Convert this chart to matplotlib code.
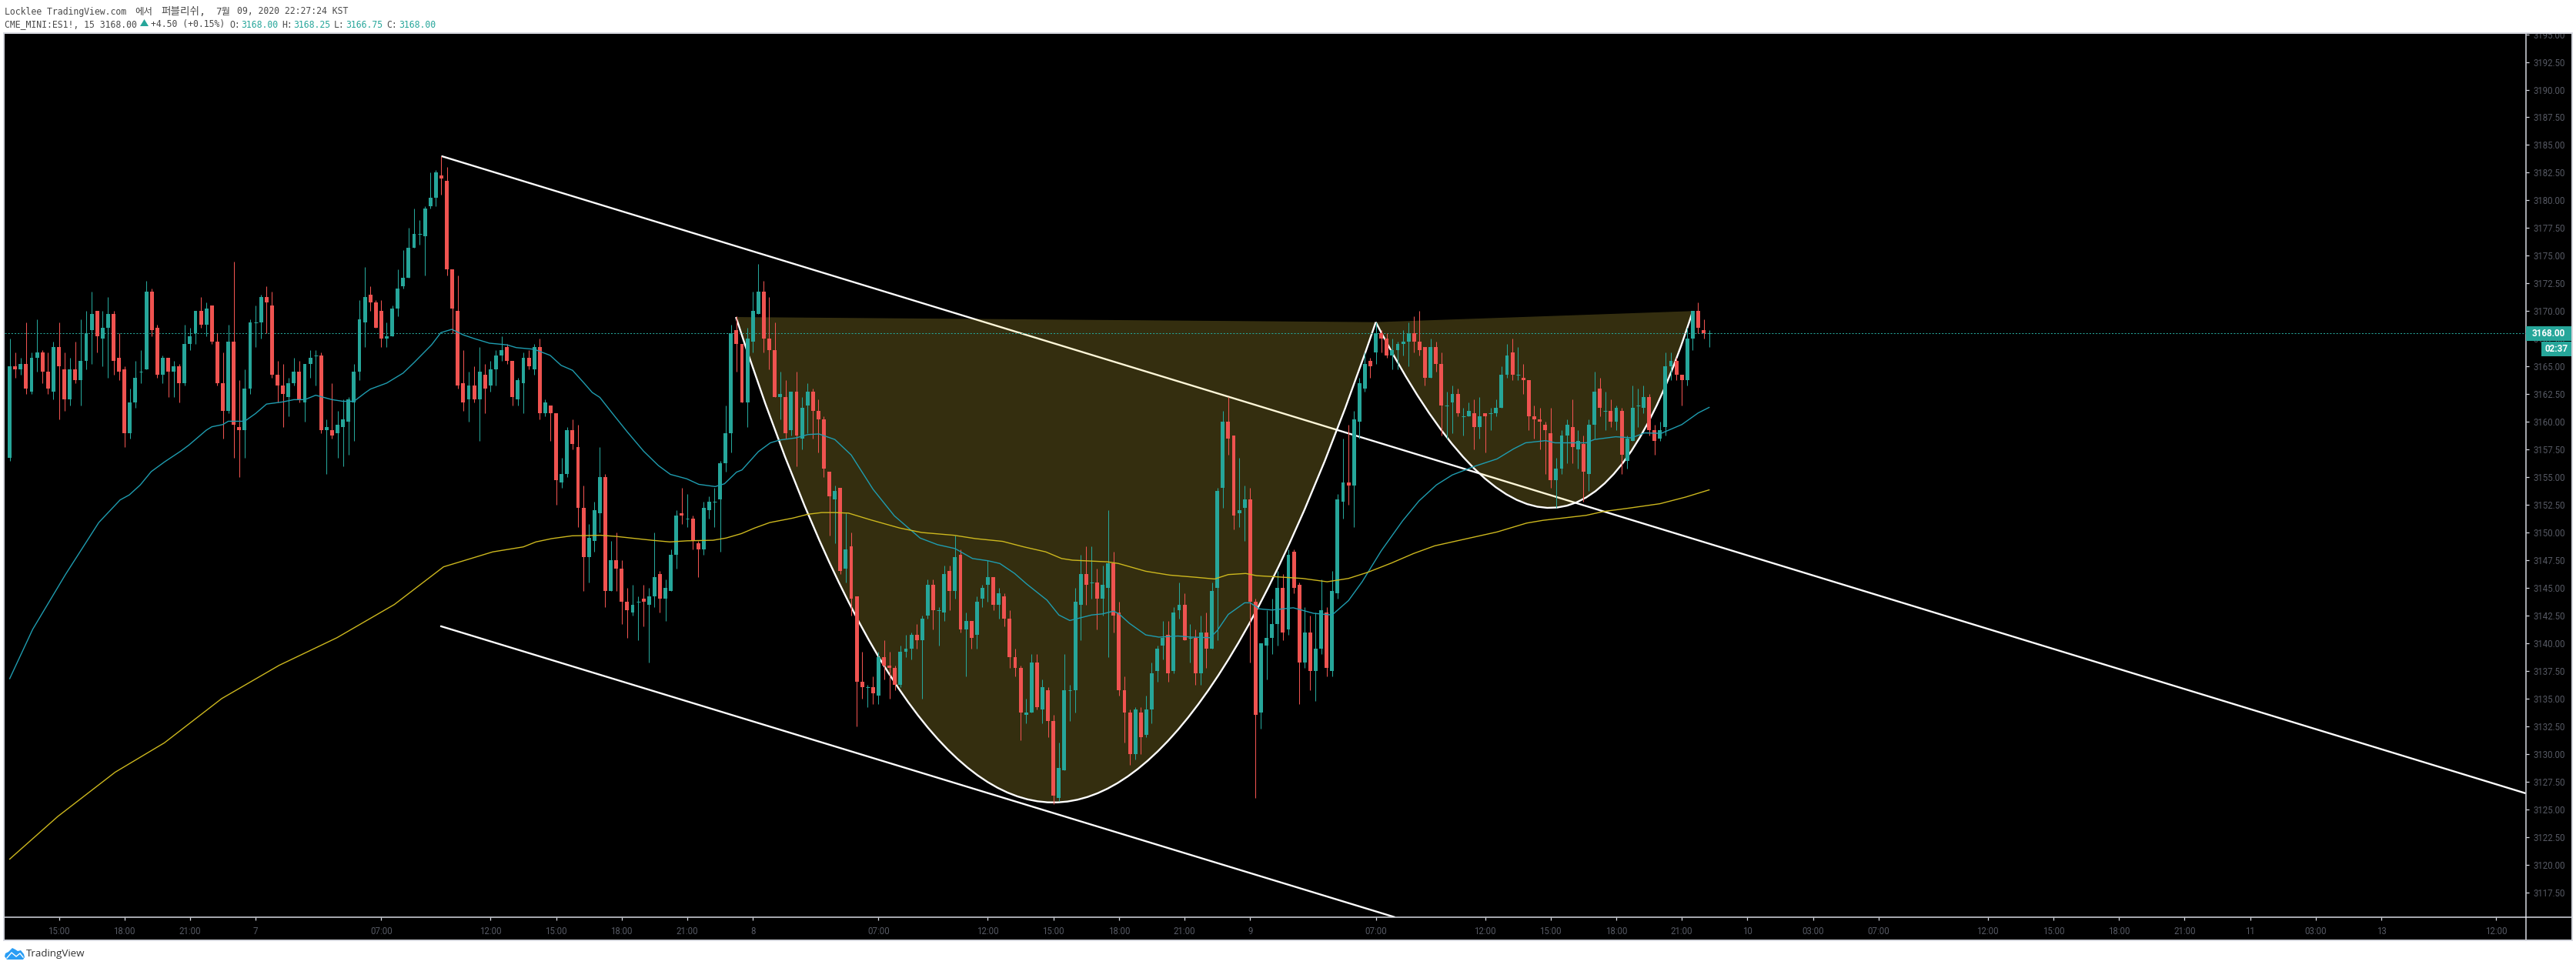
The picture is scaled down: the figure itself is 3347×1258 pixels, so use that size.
import numpy as np
import matplotlib
matplotlib.use("Agg")
import matplotlib.pyplot as plt
from matplotlib.path import Path
from matplotlib.patches import PathPatch, Polygon, Rectangle
from matplotlib.lines import Line2D

W, H = 3348, 1258

highs = [
    3167.5,3166.25,3165.75,3169,3166.25,3169.25,3166.5,3166.25,3167.25,3169,
    3166.25,3165.75,3167.25,3169.25,3170,3171.75,3170,3170,3171.25,3170,
    3168,3165,3163,3165.5,3166.5,3172.75,3172,3168.75,3166,3165.75,
    3165.5,3165.25,3168.75,3168.5,3170,3171.25,3170.75,3170.5,3168,3166.25,
    3168.75,3174.5,3163.75,3164.75,3169.25,3170.5,3171.5,3172.25,3171.75,3165.5,
    3165.25,3164,3165.75,3165.5,3165.25,3166.5,3166.5,3166.25,3160.25,3163.5,
    3161,3162,3162.25,3165.25,3171,3174,3172.25,3171,3171,3169,
    3170.5,3173.75,3175.5,3177.5,3179.25,3178.25,3179.5,3182.5,3182.75,3184,
    3183,3173.75,3173.25,3166.5,3164.5,3165,3166.75,3165.25,3165.5,3166.5,
    3167.75,3167,3165.5,3164,3166.25,3166.5,3167,3167.5,3162,3161.5,
    3160.75,3156.75,3159.5,3160.25,3159.75,3154.25,3150.75,3152.75,3157.75,3155.25,
    3149.25,3150,3147.5,3145,3145.25,3144.25,3145.25,3145,3150,3146.5,
    3145.75,3148.5,3152,3154,3153.5,3151.5,3149.25,3152.75,3153.25,3154,
    3156.5,3161.5,3168.75,3169.5,3167,3168.5,3171.75,3174.25,3172.75,3171.25,
    3169,3164.5,3163.75,3162.75,3164.5,3162.25,3163.5,3163,3162,3160.5,
    3155.5,3154.25,3154,3151.75,3150,3144.25,3139.25,3136.25,3137,3139.25,
    3140.25,3139.25,3138,3139.75,3140.75,3141,3141.75,3142.5,3145.75,3145.75,
    3143.25,3147,3147,3149.75,3148.5,3142.75,3142,3144.25,3145.25,3147.5,
    3146,3145,3144.5,3143,3139.5,3138,3135,3139,3139,3136.75,
    3136,3133.5,3131,3139,3136.25,3145,3148,3148.75,3148.75,3146.75,
    3147,3152,3148.25,3143.75,3137,3134,3134.25,3134.25,3135.25,3138.25,
    3139.75,3142,3142,3143.25,3145.5,3144.5,3141.75,3141.25,3142.5,3142.75,
    3145.5,3154,3161,3162.25,3158.75,3156.75,3154.25,3154,3144,3140,
    3143,3144,3146.5,3146.25,3148.5,3148.5,3145.5,3143.25,3142.5,3142.75,
    3145.75,3143.25,3146.5,3153.5,3158.5,3159.75,3161,3164,3166.25,3165.75,
    3169,3168.25,3168,3167.5,3167.25,3168.25,3169,3169.5,3170,3166.75,
    3167.5,3167.25,3166.25,3162.75,3163.25,3163,3161.25,3161.75,3162,3162.25,
    3160.75,3161.25,3162,3165,3167,3167.5,3166.75,3165.25,3163.75,3161.5,
    3161.25,3160,3161.25,3156.75,3159.25,3160.25,3162,3159.25,3158.75,3160.25,
    3164.5,3164,3162.75,3162,3161.5,3161.25,3158.75,3163.25,3163,3163.25,
    3162.5,3159.75,3160,3166.25,3166.25,3165.75,3164.25,3168.5,3170,3170.75,3169.25,3168.25,
]

body_tops = [
    3165,3165,3165.25,3165.25,3165.75,3166.25,3166.25,3164.5,3166.75,3166.75,
    3164.75,3164.75,3164.75,3165.5,3168,3169.75,3170,3168.5,3169.75,3169.75,
    3165.75,3164.75,3161.75,3164,3164.5,3171.75,3171.75,3168.5,3165.75,3165.75,
    3165,3165,3167,3167.75,3170,3170,3170.25,3170.5,3167.25,3163.5,
    3167.25,3167.25,3159.5,3163,3169,3169,3171.25,3171.25,3170.5,3164.25,
    3163.25,3163.5,3164.5,3164.5,3165.25,3165.75,3166,3166,3159.5,3159.25,
    3159.75,3160.25,3162,3164.5,3169.25,3171.25,3171.5,3170.75,3170,3167.75,
    3170.25,3172,3173,3175.75,3177,3177,3179.25,3180.25,3182.5,3182.25,
    3181.75,3173.75,3170,3163.5,3163.25,3163.25,3164.5,3164.25,3164.75,3166,
    3166.5,3166.75,3165.5,3163.75,3165.75,3165.75,3166.75,3166.75,3161.75,3161.5,
    3160.75,3155.25,3159.25,3159.25,3157.75,3152.25,3149.5,3152,3155,3155,
    3147.5,3147.5,3146.75,3143.75,3143.5,3143.75,3144,3144.25,3146,3146.25,
    3145,3148,3151.5,3151.75,3151.25,3151.25,3149,3152.25,3152.75,3152.75,
    3156.25,3159,3168,3168.25,3167,3167.5,3170,3171.75,3171.75,3167.5,
    3166.5,3162.5,3162.25,3162.75,3162.75,3161.25,3162.75,3162.75,3161,3160.25,
    3155.5,3153.75,3154,3148.5,3148.75,3144.25,3136.5,3136,3136,3138.75,
    3138.75,3138,3137.75,3139.25,3139.5,3140.75,3140.75,3142.25,3145.25,3145.25,
    3143,3146.25,3146.5,3147.75,3148,3142,3142,3143.75,3145,3146,
    3146,3144.5,3144.25,3142.25,3138.75,3137.75,3133.75,3138.25,3138.25,3136,
    3135.75,3133,3128.75,3135.75,3135.75,3143.75,3146.25,3146.25,3145.5,3145.5,
    3145.25,3147.25,3147.25,3142.75,3135.75,3133.75,3134,3133.75,3134,3137.25,
    3139.5,3140.5,3140.75,3142.75,3143.5,3143.5,3140.5,3140.5,3141,3141,
    3144.75,3153.75,3160,3160,3158.75,3152,3153,3153,3143.75,3140,
    3140.5,3141.75,3145,3145,3148,3148.25,3145.25,3141,3141,3139.5,
    3143,3142.75,3144.75,3153,3154.5,3154.5,3160.25,3163.5,3165.25,3165.5,
    3168,3168,3167.5,3166.5,3167,3167.25,3168,3168,3167.25,3166.75,
    3166.75,3166.75,3165.25,3161.5,3162.5,3162.5,3160.5,3161,3160.75,3160.5,
    3160.75,3160.75,3161.25,3164.25,3166,3166.25,3164.25,3164,3163.75,3160.5,
    3160.25,3159.75,3159,3155.75,3158.75,3159.75,3159.5,3158.25,3158,3159.75,
    3162.75,3163,3161,3161,3161.25,3161,3158.5,3161.25,3161.5,3162.25,
    3162.25,3159.25,3159.25,3165,3165.5,3165.5,3164.25,3167.5,3170,3170,3168.25,3168,
]

body_bots = [
    3156.75,3164.75,3164.75,3163,3162.75,3165.75,3164.5,3163,3162.75,3165,
    3162,3162,3163.75,3163.75,3165.5,3168.25,3167.75,3167.5,3168.5,3165.5,
    3164.5,3159,3159,3161.75,3164.5,3164.75,3168.25,3164.25,3164.25,3164.5,
    3164.5,3163.5,3163.5,3167,3168,3168.75,3168.75,3167.25,3163.5,3161,
    3161,3159.75,3159.25,3159.25,3163,3169,3169,3170.75,3164.25,3163.25,
    3162.5,3162.25,3163.5,3162,3161.75,3165.25,3166,3159.25,3159.25,3158.75,
    3159,3159.5,3160,3161.75,3164.5,3169,3170.75,3168.5,3167.5,3167.5,
    3167.75,3170.25,3172.25,3173,3175.75,3177,3176.75,3179.5,3180.25,3182,
    3173.75,3170.25,3163.25,3161.75,3162,3162,3162,3163,3163.25,3164.75,
    3166,3165.5,3162.25,3162,3163.5,3165,3164.75,3160.75,3160.75,3160.75,
    3154.75,3154.5,3155.25,3158,3152.25,3147.75,3147.75,3149.25,3151.75,3144.75,
    3144.75,3146.75,3143.75,3143,3142.75,3143.75,3143.75,3143.5,3144.25,3144,
    3144,3144.75,3148,3151.5,3151.25,3149.25,3148.5,3148.5,3152,3152.75,
    3153,3156.25,3159,3167,3161.75,3161.75,3167.25,3169.75,3167.5,3166.5,
    3162.25,3162.25,3159,3159.25,3158.75,3158.5,3161.5,3161,3160.25,3155.75,
    3153.25,3153,3146.5,3146.75,3144,3136.5,3136,3136,3135.5,3135.25,
    3138,3137.75,3136.25,3136.25,3139.25,3139.5,3140.25,3140.25,3142.5,3143,
    3143,3142.75,3144.75,3144.75,3141.25,3141.25,3140.5,3140.75,3144,3145.25,
    3143.5,3143.5,3142.25,3138.75,3137.75,3133.75,3133.5,3133.75,3134.25,3134,
    3133,3126.25,3126,3128.5,3135.75,3135.75,3143.5,3145.25,3145.5,3144,
    3144,3145,3142.5,3135.75,3133.75,3130,3130,3131.5,3131.75,3134,
    3137.5,3139.75,3137.25,3137.5,3143,3140.25,3140.5,3137.25,3137.25,3139.5,
    3139.5,3145,3154,3158.5,3151.5,3151.75,3152.25,3143.75,3133.5,3133.75,
    3139.75,3140.5,3141.75,3141,3141.25,3145,3138.25,3138.25,3137.5,3137.5,
    3139.5,3137.75,3137.5,3144.5,3152.75,3154.25,3154.25,3160,3163,3165,
    3166.25,3167.5,3166,3166,3166.5,3167,3167.25,3167.25,3166.5,3164,
    3164,3165.25,3161.5,3161.5,3161.75,3160.75,3160.5,3160.5,3159.5,3159.5,
    3160.5,3160.75,3160.75,3161.25,3164.25,3164.25,3164.25,3163.75,3160.5,3160.25,
    3160,3159.25,3154.75,3154.75,3155.75,3158.75,3157.75,3157.5,3155.5,3155.25,
    3159.75,3161.25,3161,3160,3160,3157,3156.5,3158.25,3161.5,3161.25,
    3159.25,3158.25,3158.5,3159.5,3165,3164.25,3163.75,3163.75,3167.5,3168.5,3168,3168,
]

lows = [
    3156.5,3164,3164.25,3162.5,3162.5,3164.5,3163.5,3162.5,3162,3160.25,
    3161,3161.5,3163.5,3161.5,3164.75,3165.25,3166.25,3165,3164,3164.25,
    3163.75,3157.75,3158.5,3161.25,3163.5,3164.75,3167.75,3164,3163.5,3162.25,
    3162.25,3161.75,3163.25,3166.5,3167,3168.5,3167.75,3167,3163.25,3158.5,
    3160.75,3156.75,3155,3156.75,3162.5,3166.75,3167.5,3168,3164,3161.75,
    3159.5,3160.5,3163.25,3161.75,3160,3164,3163.25,3159,3155.25,3158.5,
    3156.75,3156,3157,3158.25,3163.75,3166.75,3170,3168.5,3166.75,3166.75,
    3167.75,3169.5,3172,3173,3175.75,3176,3173.25,3179.25,3179.5,3180.5,
    3173.25,3168,3163,3161,3160,3161.75,3158.25,3160.75,3162.75,3163.25,
    3165.5,3165.25,3161.5,3161.5,3160.75,3164.75,3164.25,3160.25,3160.5,3158.25,
    3152.5,3154,3155,3157.5,3150.5,3144.75,3145.5,3148.25,3150,3143.25,
    3144.75,3144.75,3141.75,3140.5,3142.5,3140.25,3141.5,3138.25,3143.25,3142.75,
    3142,3144.75,3146.75,3150.75,3150.5,3148.5,3146,3148,3151.25,3150.5,
    3148.25,3155.5,3157.25,3164.5,3161.75,3159.5,3166.25,3169.75,3166.25,3164.75,
    3162.25,3160.25,3158.5,3158.75,3156,3157.5,3159,3158.5,3157.25,3155,
    3149.75,3149,3146.25,3145.5,3142.5,3132.5,3135,3134.25,3134.5,3134.5,
    3136.75,3135,3135.75,3136,3138.75,3138.5,3139.5,3135,3142.25,3141.25,
    3139.75,3142,3143,3144,3141,3137,3139.5,3139.5,3143.25,3143.75,
    3143,3142.25,3141.5,3137.75,3137,3131.25,3132.75,3133.75,3134,3132.75,
    3131.5,3125.5,3125.75,3128.5,3133,3133.75,3140.25,3143.5,3144,3141.25,
    3142.5,3138.75,3141,3135.25,3131,3129,3129.5,3130,3131.5,3132.75,
    3136.5,3138.5,3136.5,3137.25,3142.25,3140.25,3138.25,3136.25,3136.25,3137.75,
    3139.5,3140.25,3152.25,3157,3150.25,3150.5,3149.25,3138.25,3126,3132.25,
    3136.75,3139,3139.75,3140.25,3140.75,3144.5,3134.5,3137.75,3135.75,3134.75,
    3139,3137,3137,3144,3151.25,3152.5,3150.5,3158.5,3162.75,3164,
    3165.25,3166.25,3165.75,3164.75,3164.75,3166,3165,3166.25,3166,3163.25,
    3164,3164.5,3158.75,3158.5,3159,3160.5,3158.75,3160.5,3157.5,3158.5,
    3157.25,3159.25,3160.5,3161.25,3164,3163.75,3163.75,3162.5,3159.25,3158.5,
    3157.5,3155.25,3154,3152.25,3155.25,3156.25,3156.25,3155.75,3152.75,3153.75,
    3158.5,3160.5,3159.25,3159.5,3159.25,3155.25,3155.75,3158.25,3159.5,3160.75,
    3158.75,3157,3158.25,3158.75,3163.75,3163.75,3161.5,3163.25,3166.5,3168,3167.5,3166.75,
]

# U closes above its open, D below
direction = (
    "UDUDUUDDUD" "DUDUUUDUUD" "DDUUUUDDUD" "UDUUUDUDDD" "UDDUUUUDDD"
    "DUUDUUUDUD" "UUUUUUDDDU" "UUUUUUUUUD" "DDDDUDUDUU" "UDDUUDUDUD"
    "DUUDDDUUUD" "UDDDUUDUUD" "UUUDUDDUUU" "UUUDDUUUDD" "DUDUDUUDDD"
    "DUDUDDDUDU" "DDDUUUDUUD" "UUDUDUDUUU" "DUDDDDUUDU" "DDUUUUUDUD"
    "UUDDDDUDUU" "UUDUUDUDUD" "UUUDDUUDDU" "UUUDUDDUDU" "UDUUUDUUUD"
    "UDDUUUUDDD" "UDDUUDUUDU" "DUUUUDUDDD" "DDDUUUDUDU" "UDUDUDUUUU"
    "DDUUUDDUUDDU"
)

teal_bars = [0,4.2,10.2,16.3,20.2,21.9,23.9,25.9,28.4,31.3,32.8,36,37,39,40,43,45,47,50,52,54,56,59,61,63,65,66,69,72,74,
             75.7,77.2,78.9,80.9,83,85.1,87.8,91,92.7,96,98.9,100.9,103,105.1,106.6,108,110.8,113,116,118.7,120.9,123.9,
             126.1,129.1,130.8,133,134,137,139.2,140.9,143.9,146.1,148.1,151,154,158,161.9,166.6,169.8,173,176.2,179,181.2,
             183.9,186.1,189.8,192,194,196,198,200,202,203,204.9,207.9,210.3,213.8,216.3,219.7,221,223,226,227,228.7,231,
             234.9,238.6,242,245,247.5,251,254.9,257.9,261.1,264,268.2,272.2,275.2,277.4,281.1,282.8,288.5,290,293.9,296.8,
             299.2,302.2,306,309,311]
teal_values = [3136.8,3141.25,3146.2,3150.9,3152.94,3153.4,3154.3,3155.5,3156.4,3157.35,3157.9,3159.25,3159.55,3159.75,3160.05,
               3160.05,3160.75,3161.6,3161.8,3162,3162,3162.4,3162,3161.85,3161.85,3162.6,3162.95,3163.5,3164.4,3165.35,
               3166.2,3166.95,3168.05,3168.35,3167.85,3167.5,3167.1,3166.95,3166.7,3166.55,3166,3165.1,3164.65,3163.5,3162.65,
               3162.2,3160.45,3159.1,3157.35,3156.05,3155.25,3154.85,3154.35,3154.15,3154.4,3155.45,3155.65,3157.3,3158.1,
               3158.35,3158.55,3158.85,3158.9,3158.4,3157,3153.9,3151.5,3149.5,3148.9,3148.55,3147.65,3147.45,3147.2,3146.3,
               3145.35,3143.9,3142.55,3142.05,3142.3,3142.55,3142.65,3142.9,3142.65,3141.8,3140.75,3140.55,3140.65,3140.55,
               3140.5,3141.15,3142.6,3143.65,3143.65,3143.1,3143,3143.2,3142.7,3142.55,3143.85,3145.55,3148.35,3151.05,3152.85,
               3154.3,3155.2,3156,3156.65,3157.55,3158.1,3158.3,3158.1,3158.1,3158.4,3158.65,3158.55,3159,3158.95,3159.75,
               3160.8,3161.3]

yellow_bars = [0,8.8,19.3,28.3,38.8,49.3,59.9,70.4,79.4,88.4,94,96.3,99.2,102.9,108.1,110.9,113.7,117.5,120.8,124,128.7,131.1,
               133.9,136.3,139.1,143.3,146.1,148.6,151,153.5,157.5,162.9,166.9,172.8,176.7,181.7,185.6,189.6,192.5,194.5,
               200.9,202.9,207.9,212.3,217.2,220.5,223,226.2,228.2,231.7,236.6,241.1,245,248.5,252.9,256.9,260.8,272.2,277.6,
               280.6,288.5,291.7,296.3,302,306.7,311]
yellow_values = [3120.5,3124.35,3128.35,3131,3135,3138,3140.5,3143.5,3146.9,3148.25,3148.7,3149.15,3149.45,3149.7,3149.75,3149.65,
                 3149.5,3149.3,3149.15,3149.25,3149.3,3149.5,3149.9,3150.4,3150.9,3151.3,3151.65,3151.8,3151.8,3151.75,3151.15,
                 3150.4,3150,3149.75,3149.45,3149.2,3148.7,3148.25,3147.65,3147.5,3147.35,3147.2,3146.5,3146.15,3145.95,3145.8,
                 3146.2,3146.3,3146.1,3146,3145.85,3145.55,3145.85,3146.4,3147.25,3148.1,3148.8,3150.05,3150.85,3151.1,3151.55,
                 3151.9,3152.2,3152.6,3153.2,3153.85]

# trend channel: (bar, price) pairs
upper_line = [(79, 3184), (460.44, 3126.44)]
lower_line = [(78.8, 3141.55), (253.5, 3115.25)]

# cup and handle: start, control, end as (bar, price)
big_cup = [(132.9, 3169.46), (190.2, 3082), (250, 3169)]
small_cup = [(250, 3169), (285.6, 3134.95), (308, 3170)]

last_price = 3168.00
price_ticks = np.arange(3117.5, 3195.1, 2.5)
time_ticks = [9,21,33,45,68,88,100,112,124,136,159,179,191,203,215,227,250,270,282,294,306,318,330,342,362,374,386,398,410,422,434,455]
time_labels = ["15:00","18:00","21:00","7","07:00","12:00","15:00","18:00","21:00","8","07:00","12:00","15:00","18:00","21:00","9",
               "07:00","12:00","15:00","18:00","21:00","10","03:00","07:00","12:00","15:00","18:00","21:00","11","03:00","13","12:00"]

GREEN = "#26a69a"
RED = "#ef5350"
AXIS = "#d6d8e0"
LABEL = "#565963"
MONO = ["DejaVu Sans Mono", "Noto Sans CJK KR"]


def px(x, y):
    # pixel position from the top left corner, in figure fractions
    return x / W, 1 - y / H


fig = plt.figure(figsize=(W / 100, H / 100), dpi=100, facecolor="white")

# black panel behind the chart and the scales
frame_x0, frame_y1 = px(5, 1222)
frame_x1, frame_y0 = px(3342, 43)
fig.add_artist(Rectangle((frame_x0, frame_y1), frame_x1 - frame_x0, frame_y0 - frame_y1, transform=fig.transFigure,
                         facecolor="black", edgecolor=AXIS, linewidth=1.4, zorder=-5))

left, bottom = px(6, 1192)
right, top = px(3281.7, 44)
ax = fig.add_axes([left, bottom, right - left, top - bottom], facecolor="black")
ax.set_xlim(-0.93, 460.44)
ax.set_ylim(3115.25, 3195.04)

for spine in ["left", "top"]:
    ax.spines[spine].set_visible(False)
for spine in ["right", "bottom"]:
    ax.spines[spine].set_color(AXIS)
    ax.spines[spine].set_linewidth(1.1)

ax.yaxis.tick_right()
ax.set_yticks(price_ticks)
ax.set_yticklabels(["%.2f" % p for p in price_ticks], family="Roboto", fontsize=8.3, color=LABEL)
ax.set_xticks(time_ticks)
ax.set_xticklabels(time_labels, family="Roboto", fontsize=8.3, color=LABEL)
ax.tick_params(axis="y", length=3, width=0.9, color=AXIS, pad=4)
ax.tick_params(axis="x", length=3, width=0.9, color=AXIS, pad=6)

# channel lines sit under everything else
for line in (upper_line, lower_line):
    xs, ys = zip(*line)
    ax.plot(xs, ys, color="white", linewidth=1.7, solid_capstyle="butt", zorder=1)

# cups: shaded up to the chord, white curve on the edge
for cup in (big_cup, small_cup):
    codes = [Path.MOVETO, Path.CURVE3, Path.CURVE3, Path.CLOSEPOLY]
    ax.add_patch(PathPatch(Path(cup + [cup[0]], codes), facecolor=(1.0, 0.88, 0.29, 0.208), edgecolor="none", zorder=2))
    ax.add_patch(PathPatch(Path(cup, codes[:3]), facecolor="none", edgecolor="white", linewidth=1.7, zorder=3))

ax.plot([-0.93, 460.44], [last_price, last_price], color=GREEN, linewidth=0.75, dashes=(2, 2), zorder=4)

# candles
bars = np.arange(len(highs))
colors = [GREEN if d == "U" else RED for d in direction]
ax.vlines(bars, lows, highs, colors=colors, linewidth=0.75, zorder=5)
heights = np.array(body_tops) - np.array(body_bots)
ax.bar(bars, heights, bottom=body_bots, width=0.7, color=colors, linewidth=0, zorder=6)
flat = heights == 0
ax.hlines(np.array(body_tops)[flat], bars[flat] - 0.35, bars[flat] + 0.35, colors=np.array(colors)[flat], linewidth=0.75, zorder=6)

# moving averages
ax.plot(teal_bars, teal_values, color="#1f9db0", linewidth=1.0, zorder=7)
ax.plot(yellow_bars, yellow_values, color="#cdb81e", linewidth=1.0, zorder=7)

# scale separators run on to the panel edges
x, y = px(3281.7, 1192)
fig.add_artist(Line2D([x, x], [y, px(0, 1221)[1]], color=AXIS, linewidth=1.1))
x0, y0 = px(3281.7, 1192)
fig.add_artist(Line2D([x0, px(3341, 0)[0]], [y0, y0], color=AXIS, linewidth=1.1))

# white strip over the top of the scale labels
bx, by = px(0, 43)
fig.add_artist(Rectangle((bx, by), 1, 1 - by, transform=fig.transFigure, facecolor="white", edgecolor="none", zorder=5))
fig.add_artist(Line2D(list(px(5, 43)[:1]) + list(px(3342, 43)[:1]), [by, by], color=AXIS, linewidth=1.4, zorder=6))


# price and countdown badges
def badge(x0, y0, x1, y1, text):
    bx0, by0 = px(x0, y1)
    bx1, by1 = px(x1, y0)
    fig.add_artist(Rectangle((bx0, by0), bx1 - bx0, by1 - by0, transform=fig.transFigure,
                             facecolor=GREEN, edgecolor="none", zorder=7))
    tx, ty = px((x0 + x1) / 2, (y0 + y1) / 2)
    fig.text(tx, ty, text, color="white", family="Roboto", weight="bold", fontsize=8.4,
             ha="center", va="center", zorder=8)


badge(3282, 424, 3341, 442.7, "3168.00")
badge(3302, 444, 3341, 462.7, "02:37")


# header lines
def header(x, y, text, color="#4a4a4a", size=8.3):
    tx, ty = px(x, y)
    fig.text(tx, ty, text, color=color, family=MONO, fontsize=size, ha="left", va="center", zorder=8)


header(6, 15, "Locklee TradingView.com")
header(175, 15, "에서", size=9)
header(209, 15, "퍼블리쉬,", size=9.8)
header(280, 15, "7월", size=9)
header(308, 15, "09, 2020 22:27:24 KST")
header(6, 32, "CME_MINI:ES1!, 15 3168.00")
fig.add_artist(Polygon([px(182, 34), px(193, 34), px(187.5, 25)], transform=fig.transFigure, facecolor=GREEN,
                       edgecolor="none", zorder=8))
header(196, 32, "+4.50 (+0.15%)")
for lx, name, vx, value in [(298, "O:", 313, "3168.00"), (366, "H:", 381.7, "3168.25"),
                            (434, "L:", 449.6, "3166.75"), (502, "C:", 518, "3168.00")]:
    header(lx, 32, name)
    header(vx, 32, value, GREEN)

# brand mark at the bottom
cloud = [(6, 1243), (7, 1239), (11, 1237), (16, 1232), (20, 1234), (23, 1236), (27, 1235), (31, 1240), (32, 1244), (30, 1247), (9, 1247)]
fig.add_artist(Polygon([px(*p) for p in cloud], transform=fig.transFigure, facecolor="#2a9df4", edgecolor="none", zorder=8))
zig = [(9, 1245), (15, 1238), (21, 1243), (26, 1239), (30, 1244)]
fig.add_artist(Line2D([px(*p)[0] for p in zig], [px(*p)[1] for p in zig], color="white", linewidth=1.0, zorder=9))
tx, ty = px(34, 1240)
fig.text(tx, ty, "TradingView", color="#333333", family="Open Sans", fontsize=9.6, ha="left", va="center", zorder=8)

fig.savefig("out.png", dpi=100)
